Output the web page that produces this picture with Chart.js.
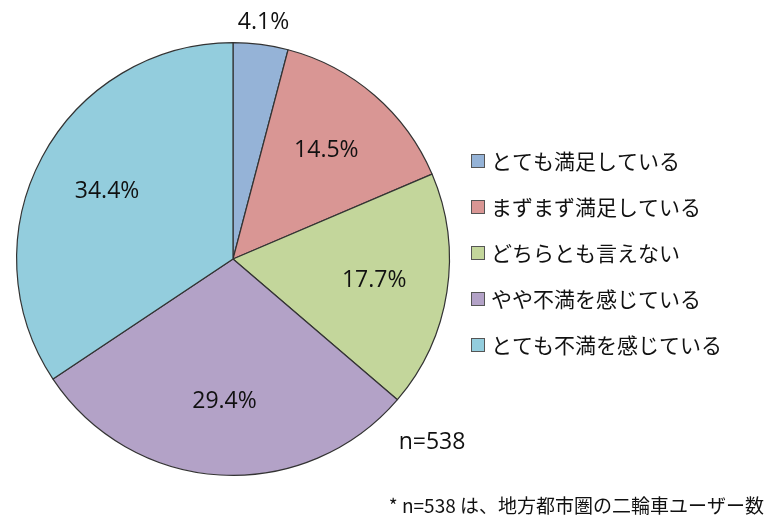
<!DOCTYPE html>
<html><head><meta charset="utf-8">
<script src="https://cdn.jsdelivr.net/npm/chart.js@4"></script>
<style>body{margin:0;background:#fff}#wrap{width:768px;height:524px}</style>
</head><body><div id="wrap"><canvas id="pie"></canvas></div>
<script>
const categories = ['とても満足している','まずまず満足している','どちらとも言えない','やや不満を感じている','とても不満を感じている'];
const shares = [4.1, 14.5, 17.7, 29.4, 34.4];
const colors = ['#95B3D7','#D99694','#C3D69B','#B3A2C7','#93CDDD'];
const FONT = '"Noto Sans CJK JP", "Noto Sans", sans-serif';
const LATIN = '"Open Sans", "Noto Sans", sans-serif';

const labelsPlugin = {
  id: 'labels',
  afterDraw(chart) {
    const ctx = chart.ctx;
    const meta = chart.getDatasetMeta(0);
    ctx.save();
    ctx.fillStyle = '#111';
    ctx.textAlign = 'center';
    ctx.textBaseline = 'middle';
    ctx.font = '23px ' + LATIN;
    meta.data.forEach((arc, i) => {
      const mid = (arc.startAngle + arc.endAngle) / 2;
      const f = i === 0 ? 1.1 : 0.66;
      const r = arc.outerRadius * f;
      ctx.fillText(shares[i].toFixed(1) + '%', arc.x + Math.cos(mid) * r, arc.y + Math.sin(mid) * r);
    });
    ctx.fillText('n=538', 432, 442);
    // legend
    ctx.textAlign = 'left';
    ctx.font = '21px ' + FONT;
    categories.forEach((c, i) => {
      const y = 161 + i * 46;
      ctx.fillStyle = colors[i];
      ctx.fillRect(471, y - 7, 13, 13);
      ctx.strokeStyle = '#555';
      ctx.lineWidth = 1;
      ctx.strokeRect(471.5, y - 6.5, 13, 13);
      ctx.fillStyle = '#111';
      ctx.fillText(c, 491, y);
    });
    ctx.textAlign = 'right';
    ctx.font = '19px ' + FONT;
    ctx.fillText('* n=538 は、地方都市圏の二輪車ユーザー数', 764, 506);
    ctx.restore();
  }
};

new Chart(document.getElementById('pie'), {
  type: 'pie',
  data: {
    labels: categories,
    datasets: [{ data: shares, backgroundColor: colors, borderColor: '#333', borderWidth: 1.2 }]
  },
  options: {
    responsive: true,
    maintainAspectRatio: false,
    animation: false,
    layout: { padding: { left: 16, right: 318, top: 42, bottom: 48 } },
    plugins: { legend: { display: false }, tooltip: { enabled: false } }
  },
  plugins: [labelsPlugin]
});
</script></body></html>
